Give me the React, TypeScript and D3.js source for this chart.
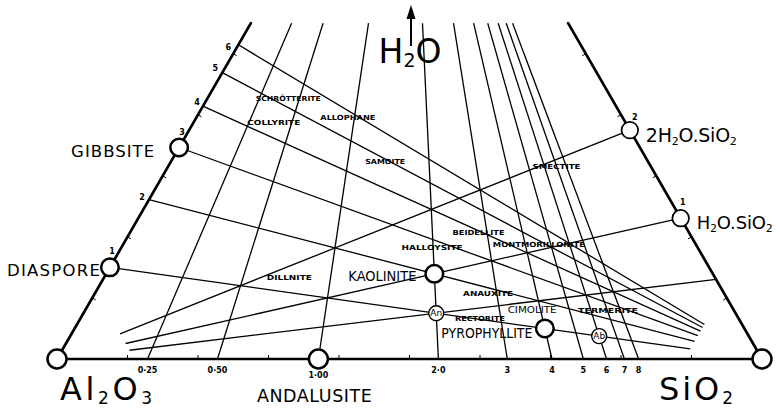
import React from "react";
import * as d3 from "d3";

// molar masses used for the weight-percent ternary
const MOLAR_MASS_AL2O3 = 101.96;
const MOLAR_MASS_SIO2 = 60.08;
const MOLAR_MASS_H2O = 18.015;

// SiO2/Al2O3 molar ratios on the base (rays to the H2O apex)
const baseRatios = [0.25, 0.5, 1, 2, 3, 4, 5, 6, 7, 8];
const baseLabels = ["0·25", "0·50", "1·00", "2·0", "3", "4", "5", "6", "7", "8"];
// H2O/Al2O3 molar ratios on the Al2O3–H2O side (lines to the SiO2 vertex)
const hydrateRatios = [1, 2, 3, 4, 5, 6];
const hydrateLabels = ["1", "2", "3", "4", "5", "6"];
// H2O/SiO2 molar ratios on the SiO2–H2O side (lines to the Al2O3 vertex)
const silicaHydrateRatios = [2, 1, 0.5];
const silicaHydrateLabels = ["2", "1", ""];
// weight-fraction ticks
const baseTicks = [0.1, 0.2, 0.3, 0.4, 0.5, 0.6, 0.7, 0.8, 0.9];
const sideTicks = [0.1, 0.2, 0.3, 0.4, 0.5];

// named compositions (moles Al2O3, SiO2, H2O)
const mineralNames = ["Al2O3", "SiO2", "ANDALUSITE", "DIASPORE", "GIBBSITE", "KAOLINITE", "PYROPHYLLITE", "An", "Ab", "2H2O.SiO2", "H2O.SiO2"];
const mineralAl = [1, 0, 1, 1, 1, 1, 1, 1, 1, 0, 0];
const mineralSi = [0, 1, 1, 0, 0, 2, 4, 2, 6, 1, 1];
const mineralH = [0, 0, 0, 1, 3, 2, 1, 1, 1, 2, 1];

// clay-mineral names placed at weight fractions (SiO2, H2O)
const clayNames = ["SCHRÖTTERITE", "COLLYRITE", "ALLOPHANE", "SAMOITE", "SMECTITE", "BEIDELLITE", "HALLOYSITE", "MONTMORILLONITE", "DILLNITE", "ANAUXITE", "CIMOLITE", "TERMERITE", "RECTORITE"];
const claySiWt = [0.115, 0.114, 0.215, 0.304, 0.551, 0.495, 0.441, 0.59, 0.263, 0.558, 0.634, 0.742, 0.567];
const clayH2OWt = [0.426, 0.387, 0.395, 0.323, 0.315, 0.206, 0.182, 0.187, 0.133, 0.107, 0.08, 0.079, 0.066];

// ---- layout ----
const W = 780;
const H = 409;
const BASE_Y = 359;
const LEFT_X = 57;
const RIGHT_X = 762;
const TOP_W = 0.55; // lines clipped at this water fraction
const END_T = 0.89; // fan lines stop here
const clayWidths = [65, 53, 55, 40, 48, 52, 61, 92, 45, 50, 49, 60, 50];
const hydrateOffsets = [[2, -16], [-7, -2], [3, -15], [-6, -4], [-7, -4], [-10, 3]];
const silicaOffsets = [[5, -13], [2, -16], [0, 0]];
const FONT = "'DejaVu Sans', sans-serif";

const xScale = d3.scaleLinear().domain([0, 1]).range([LEFT_X, RIGHT_X]);
const yScale = d3
  .scaleLinear()
  .domain([0, 1])
  .range([BASE_Y, BASE_Y - ((RIGHT_X - LEFT_X) * Math.sqrt(3)) / 2]);

function project(s: number, w: number): [number, number] {
  return [xScale(s + w / 2), yScale(w)];
}
function fractions(al: number, si: number, h: number) {
  const a = al * MOLAR_MASS_AL2O3;
  const s = si * MOLAR_MASS_SIO2;
  const w = h * MOLAR_MASS_H2O;
  const t = a + s + w;
  return { s: s / t, w: w / t };
}

const line = d3.line<[number, number]>();

function seg(p: [number, number], q: [number, number]) {
  return line([project(p[0], p[1]), project(q[0], q[1])]) || "";
}

export default function App() {
  const thin = { stroke: "#000", strokeWidth: 1.3, fill: "none" };
  const thick = { stroke: "#000", strokeWidth: 2.7, fill: "none", strokeLinecap: "round" as const };

  const baseFr = baseRatios.map((r) => fractions(1, r, 0));
  const hydFr = hydrateRatios.map((h) => fractions(1, 0, h));
  const silFr = silicaHydrateRatios.map((k) => fractions(0, 1, k));
  const minerals = mineralNames.map((n, i) => {
    const f = fractions(mineralAl[i], mineralSi[i], mineralH[i]);
    const [x, y] = project(f.s, f.w);
    return { name: n, x, y };
  });
  const M = (n: string) => minerals.find((m) => m.name === n)!;

  const apex = project(0, 1);

  return (
    <svg
      width={W}
      height={H}
      viewBox={`0 0 ${W} ${H}`}
      style={{ position: "absolute", left: 0, top: 0, background: "#fff" }}
      fontFamily={FONT}
    >
      <rect x={0} y={0} width={W} height={H} fill="#fff" />

      {/* rays from base to H2O apex */}
      {baseFr.map((f, i) => (
        <path key={"ray" + i} d={seg([f.s, 0], [f.s * (1 - TOP_W), TOP_W])} {...thin} />
      ))}

      {/* lines of constant H2O/Al2O3 toward SiO2 */}
      {hydFr.map((f, i) => (
        <path key={"hyd" + i} d={seg([0, f.w], [END_T, f.w * (1 - END_T)])} {...thin} />
      ))}

      {/* lines of constant H2O/SiO2 toward Al2O3 */}
      {silFr.map((f, i) => (
        <path
          key={"sil" + i}
          d={seg([f.s, f.w], [f.s * (1 - END_T), f.w * (1 - END_T)])}
          {...thin}
        />
      ))}

      {/* triangle sides */}
      <path d={seg([0, 0], [1, 0])} {...thick} />
      <path d={seg([0, 0], [0, TOP_W])} {...thick} />
      <path d={seg([1, 0], [1 - TOP_W, TOP_W])} {...thick} />

      {/* ticks */}
      {baseTicks.map((t, i) => {
        const [x, y] = project(t, 0);
        return <line key={"bt" + i} x1={x} y1={y} x2={x} y2={y - 4} stroke="#000" strokeWidth={1} />;
      })}
      {sideTicks.map((t, i) => {
        const [x, y] = project(0, t);
        return (
          <line key={"lt" + i} x1={x} y1={y} x2={x + 4 * 0.866} y2={y + 4 * 0.5} stroke="#000" strokeWidth={1} />
        );
      })}
      {sideTicks.map((t, i) => {
        const [x, y] = project(1 - t, t);
        return (
          <line key={"rt" + i} x1={x} y1={y} x2={x - 4 * 0.866} y2={y + 4 * 0.5} stroke="#000" strokeWidth={1} />
        );
      })}

      {/* circles */}
      {minerals.map((m) => {
        const small = m.name === "An" || m.name === "Ab";
        const vertex = m.name === "Al2O3" || m.name === "SiO2" || m.name === "ANDALUSITE";
        const sideHyd = m.name === "2H2O.SiO2" || m.name === "H2O.SiO2";
        const r = small ? 7.5 : vertex ? 9.5 : sideHyd ? 8.3 : 8.8;
        const sw = small ? 1.4 : sideHyd ? 1.7 : 2.5;
        return <circle key={"c" + m.name} cx={m.x} cy={m.y} r={r} fill="#fff" stroke="#000" strokeWidth={sw} />;
      })}
      <text x={M("An").x} y={M("An").y} fontSize={9} textAnchor="middle" dominantBaseline="central">An</text>
      <text x={M("Ab").x} y={M("Ab").y} fontSize={9} textAnchor="middle" dominantBaseline="central">Ab</text>

      {/* base numeric labels */}
      {baseFr.map((f, i) => {
        const [x] = project(f.s, 0);
        return (
          <text
            key={"bl" + i}
            x={x}
            y={baseRatios[i] === 1 ? 378 : 373}
            fontSize={8}
            fontWeight="bold"
            textAnchor="middle"
          >
            {baseLabels[i]}
          </text>
        );
      })}

      {/* side numeric labels */}
      {hydFr.map((f, i) => {
        const [x, y] = project(0, f.w);
        return (
          <text
            key={"hl" + i}
            x={x + hydrateOffsets[i][0]}
            y={y + hydrateOffsets[i][1]}
            fontSize={8}
            fontWeight="bold"
            textAnchor="middle"
            dominantBaseline="central"
          >
            {hydrateLabels[i]}
          </text>
        );
      })}
      {silFr.map((f, i) => {
        const [x, y] = project(f.s, f.w);
        return (
          <text
            key={"sl" + i}
            x={x + silicaOffsets[i][0]}
            y={y + silicaOffsets[i][1]}
            fontSize={8}
            fontWeight="bold"
            textAnchor="middle"
            dominantBaseline="central"
          >
            {silicaHydrateLabels[i]}
          </text>
        );
      })}

      {/* clay mineral names */}
      {clayNames.map((n, i) => {
        const [x, y] = project(claySiWt[i], clayH2OWt[i]);
        const big = n === "CIMOLITE";
        return (
          <text
            key={"cl" + i}
            x={x}
            y={y}
            fontSize={big ? 8.5 : 7}
            fontWeight={big ? "normal" : "bold"}
            textAnchor="middle"
            dominantBaseline="central"
            textLength={clayWidths[i]}
            lengthAdjust="spacingAndGlyphs"
          >
            {n}
          </text>
        );
      })}

      {/* named mineral labels */}
      <text x={M("GIBBSITE").x - 25} y={M("GIBBSITE").y + 9.5} fontSize={16.5} textAnchor="end" textLength={83} lengthAdjust="spacing">
        GIBBSITE
      </text>
      <text x={M("DIASPORE").x - 10} y={M("DIASPORE").y + 8.6} fontSize={16.5} textAnchor="end" textLength={93} lengthAdjust="spacing">
        DIASPORE
      </text>
      <text x={M("KAOLINITE").x - 18} y={M("KAOLINITE").y + 7} fontSize={14.5} textAnchor="end" textLength={68} lengthAdjust="spacingAndGlyphs">
        KAOLINITE
      </text>
      <text x={M("PYROPHYLLITE").x - 12.5} y={M("PYROPHYLLITE").y + 10} fontSize={14.5} textAnchor="end" textLength={91} lengthAdjust="spacingAndGlyphs">
        PYROPHYLLITE
      </text>
      <text x={M("ANDALUSITE").x - 4} y={402} fontSize={17.5} textAnchor="middle" textLength={115} lengthAdjust="spacing">
        ANDALUSITE
      </text>
      <text x={M("2H2O.SiO2").x + 16} y={M("2H2O.SiO2").y + 12} fontSize={19} textLength={91} lengthAdjust="spacing">
        2H<tspan fontSize={11} dy={3}>2</tspan>
        <tspan dy={-3}>O.SiO</tspan>
        <tspan fontSize={11} dy={3}>2</tspan>
      </text>
      <text x={M("H2O.SiO2").x + 16} y={M("H2O.SiO2").y + 11} fontSize={18} textLength={76} lengthAdjust="spacing">
        H<tspan fontSize={11} dy={3}>2</tspan>
        <tspan dy={-3}>O.SiO</tspan>
        <tspan fontSize={11} dy={3}>2</tspan>
      </text>

      {/* vertex labels */}
      <text x={M("Al2O3").x + 3} y={400} fontSize={32} textLength={92} lengthAdjust="spacing">
        Al<tspan fontSize={17} dy={4}>2</tspan>
        <tspan dy={-4}>O</tspan>
        <tspan fontSize={17} dy={4}>3</tspan>
      </text>
      <text x={M("SiO2").x - 29} y={400} fontSize={32} textAnchor="end" textLength={74} lengthAdjust="spacing">
        SiO<tspan fontSize={17} dy={4}>2</tspan>
      </text>
      <text x={apex[0] - 31} y={63} fontSize={33} textLength={63} lengthAdjust="spacing">
        H<tspan fontSize={19} dy={4}>2</tspan>
        <tspan dy={-4}>O</tspan>
      </text>

      {/* H2O arrow */}
      <line x1={apex[0] + 1.5} y1={46} x2={apex[0] + 1.5} y2={14} stroke="#000" strokeWidth={2} />
      <path
        d={`M${apex[0] + 1.5},5 L${apex[0] - 3},19 L${apex[0] + 6},19 Z`}
        fill="#000"
      />
    </svg>
  );
}
